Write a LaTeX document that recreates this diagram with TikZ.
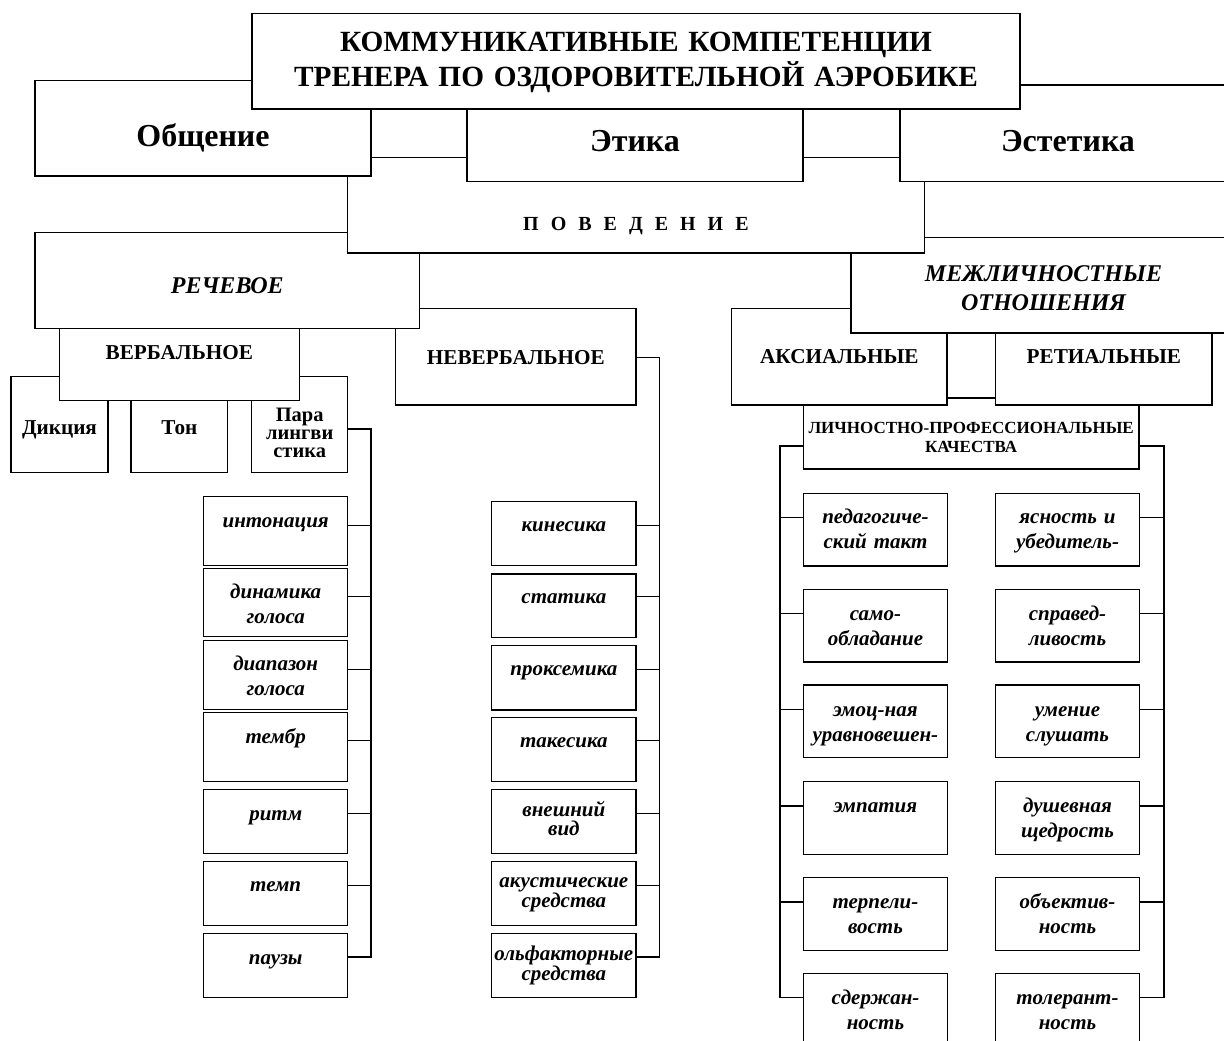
\documentclass[tikz,border=0pt]{standalone}
\usepackage{fontspec}
\setmainfont{Liberation Serif}
\usetikzlibrary{calc}
\tikzset{
  boxbase/.style={draw=black, fill=white, line width=1.5pt, inner sep=0pt, outer sep=0pt, anchor=north west, align=center},
  conn/.style={draw=black, line width=1.5pt},
  ftitle/.style={font=\fontsize{29.3}{34.3}\selectfont\bfseries},
  fbig/.style={font=\fontsize{32}{36}\selectfont\bfseries},
  fpov/.style={font=\fontsize{20}{24}\selectfont\bfseries},
  fbi/.style={font=\fontsize{24}{28.3}\selectfont\bfseries\itshape},
  fcap/.style={font=\fontsize{21.2}{24}\selectfont\bfseries},
  fpara/.style={font=\fontsize{20.5}{18.3}\selectfont\bfseries},
  flich/.style={font=\fontsize{17}{19}\selectfont\bfseries},
  fit/.style={font=\fontsize{21}{25}\selectfont\bfseries\itshape},
  fitt/.style={font=\fontsize{21}{19}\selectfont\bfseries\itshape},
}
\newcommand\mkbox[8][]{%
  \pgfmathsetmacro\mkboxd{#6-#7}%
  \node[boxbase,#1,text width=#5pt,text height=#7pt,text depth=\mkboxd pt] (#2) at (#3,#4) {#8};}
\begin{document}
\begin{tikzpicture}[x=1pt,y=-1pt]
\useasboundingbox (0,0) rectangle (1224,1041);
\fill[white] (0,0) rectangle (1224,1041);
\clip (0,0) rectangle (1224,1041);
% ---- lowest layer: left branch
\mkbox[fcap]{dik}{11}{376.7}{97}{95.6}{57.6}{Дикция}
\mkbox[fcap]{ton}{131}{376.7}{96.7}{95.6}{57.6}{Тон}
\mkbox[fpara]{para}{251.7}{376.7}{96}{95.6}{44.3}{Пара\\лингви\\стика}
\mkbox[fcap]{verb}{59.3}{305}{240}{95.7}{54.3}{ВЕРБАЛЬНОЕ}
\mkbox[fcap]{nverb}{395.7}{308.3}{240.3}{96.7}{55.7}{НЕВЕРБАЛЬНОЕ}
\mkbox[fbi]{rech}{35}{232.3}{384.6}{96}{61}{РЕЧЕВОЕ}
% ---- right branch
\mkbox[flich]{lich}{803.3}{398}{335.7}{71}{35.3}{ЛИЧНОСТНО-ПРОФЕССИОНАЛЬНЫЕ\\КАЧЕСТВА}
\mkbox[fcap]{aks}{731.7}{308.3}{215.3}{96.7}{55}{АКСИАЛЬНЫЕ}
\mkbox[fcap]{ret}{995.7}{310}{216.3}{95}{53.3}{РЕТИАЛЬНЫЕ}
\mkbox[fbi]{mezh}{851}{237.3}{385}{95.7}{44.4}{МЕЖЛИЧНОСТНЫЕ\\ОТНОШЕНИЯ}
% ---- upper layers
\mkbox[fpov]{pov}{347.4}{157.5}{577}{95.5}{72.5}{{\spaceskip=12pt П О В Е Д Е Н И Е}}
\mkbox[fbig]{obsh}{35}{80.7}{336}{95.3}{66}{Общение}
\mkbox[fbig]{etika}{467}{85}{336}{96.7}{66.7}{Этика}
\mkbox[fbig]{estet}{900}{85}{336}{96.7}{66.7}{Эстетика}
\mkbox[ftitle]{top}{252}{13.3}{768}{95.7}{38.4}{КОММУНИКАТИВНЫЕ КОМПЕТЕНЦИИ\\ТРЕНЕРА ПО ОЗДОРОВИТЕЛЬНОЙ АЭРОБИКЕ}
% ---- paralinguistics items
\mkbox[fit]{l1}{203.7}{496.7}{144}{69}{30.6}{интонация}
\mkbox[fit]{l2}{203.7}{568.3}{144}{68.4}{30}{динамика\\голоса}
\mkbox[fit]{l3}{203.7}{640.7}{144}{68.6}{29.3}{диапазон\\голоса}
\mkbox[fit]{l4}{203.7}{712.7}{144}{68.6}{30.6}{тембр}
\mkbox[fit]{l5}{203.7}{789.3}{144}{64.4}{31.4}{ритм}
\mkbox[fit]{l6}{203.7}{861.3}{144}{64.4}{30.4}{темп}
\mkbox[fit]{l7}{203.7}{933.3}{144}{64.4}{30.7}{паузы}
% ---- nonverbal items
\mkbox[fit]{m1}{491.7}{501.7}{144.3}{64}{30}{кинесика}
\mkbox[fit]{m2}{491.7}{574}{144.3}{63.3}{29.3}{статика}
\mkbox[fit]{m3}{491.7}{645.7}{144.3}{64.3}{29.3}{проксемика}
\mkbox[fit]{m4}{491.7}{717.7}{144.3}{63.6}{29.6}{такесика}
\mkbox[fitt]{m5}{491.7}{789.3}{144.3}{64.4}{26.7}{внешний\\вид}
\mkbox[fitt]{m6}{491.7}{861.3}{144.3}{64.4}{26}{акустические\\средства}
\mkbox[fitt]{m7}{491.7}{933.3}{144.3}{64.4}{26.7}{ольфакторные\\средства}
% ---- qualities, left column
\mkbox[fit]{a1}{803.3}{493.3}{144.3}{72.7}{30}{педагогиче-\\ский такт}
\mkbox[fit]{a2}{803.3}{589.3}{144.3}{72.7}{30.7}{само-\\обладание}
\mkbox[fit]{a3}{803.3}{685}{144.3}{72.7}{31}{эмоц-ная\\уравновешен-}
\mkbox[fit]{a4}{803.3}{781.7}{144.3}{72.7}{31}{эмпатия}
\mkbox[fit]{a5}{803.3}{877.7}{144.3}{72.7}{30.6}{терпели-\\вость}
\mkbox[fit]{a6}{803.3}{973.3}{144.3}{72.7}{31}{сдержан-\\ность}
% ---- qualities, right column
\mkbox[fit]{b1}{995.7}{493.3}{143.6}{72.7}{30}{ясность и\\убедитель-}
\mkbox[fit]{b2}{995.7}{589.3}{143.6}{72.7}{30.7}{справед-\\ливость}
\mkbox[fit]{b3}{995.7}{685}{143.6}{72.7}{31}{умение\\слушать}
\mkbox[fit]{b4}{995.7}{781.7}{143.6}{72.7}{31}{душевная\\щедрость}
\mkbox[fit]{b5}{995.7}{877.7}{143.6}{72.7}{30.6}{объектив-\\ность}
\mkbox[fit]{b6}{995.7}{973.3}{143.6}{72.7}{31}{толерант-\\ность}
% ---- bus coordinates
\coordinate (lbus) at (371,0);
\coordinate (mbus) at (659.3,0);
\coordinate (abus) at (780,0);
\coordinate (bbus) at (1164,0);
% paralinguistics bus
\coordinate (pc) at ($(para.north east)+(0,52.3)$);
\coordinate (l1c) at ($(l1.north east)+(0,29)$);
\coordinate (l2c) at ($(l2.north east)+(0,28.4)$);
\coordinate (l3c) at ($(l3.north east)+(0,28.6)$);
\coordinate (l4c) at ($(l4.north east)+(0,28)$);
\coordinate (l5c) at ($(l5.north east)+(0,24)$);
\coordinate (l6c) at ($(l6.north east)+(0,24)$);
\coordinate (l7c) at ($(l7.north east)+(0,23.7)$);
\draw[conn] (pc) -- (pc -| lbus) -- (l7c -| lbus) -- (l7c);
\foreach \i in {1,...,6} \draw[conn] (l\i c) -- (l\i c -| lbus);
% nonverbal bus
\coordinate (nc) at ($(nverb.north east)+(0,49)$);
\coordinate (m1c) at ($(m1.north east)+(0,24)$);
\coordinate (m2c) at ($(m2.north east)+(0,22.7)$);
\coordinate (m3c) at ($(m3.north east)+(0,23.6)$);
\coordinate (m4c) at ($(m4.north east)+(0,23)$);
\coordinate (m5c) at ($(m5.north east)+(0,24)$);
\coordinate (m6c) at ($(m6.north east)+(0,24)$);
\coordinate (m7c) at ($(m7.north east)+(0,23.7)$);
\draw[conn] (nc) -- (nc -| mbus) -- (m7c -| mbus) -- (m7c);
\foreach \i in {1,...,6} \draw[conn] (m\i c) -- (m\i c -| mbus);
% qualities buses
\coordinate (lcl) at ($(lich.north west)+(0,48)$);
\coordinate (lcr) at ($(lich.north east)+(0,48)$);
\foreach \i in {1,...,6} {
  \coordinate (a\i c) at ($(a\i.north west)+(0,24.4)$);
  \coordinate (b\i c) at ($(b\i.north east)+(0,24.4)$);
}
\draw[conn] (lcl) -- (lcl -| abus) -- (a6c -| abus) -- (a6c);
\draw[conn] (lcr) -- (lcr -| bbus) -- (b6c -| bbus) -- (b6c);
\foreach \i in {1,...,5} {
  \draw[conn] (a\i c) -- (a\i c -| abus);
  \draw[conn] (b\i c) -- (b\i c -| bbus);
}
\end{tikzpicture}
\end{document}
